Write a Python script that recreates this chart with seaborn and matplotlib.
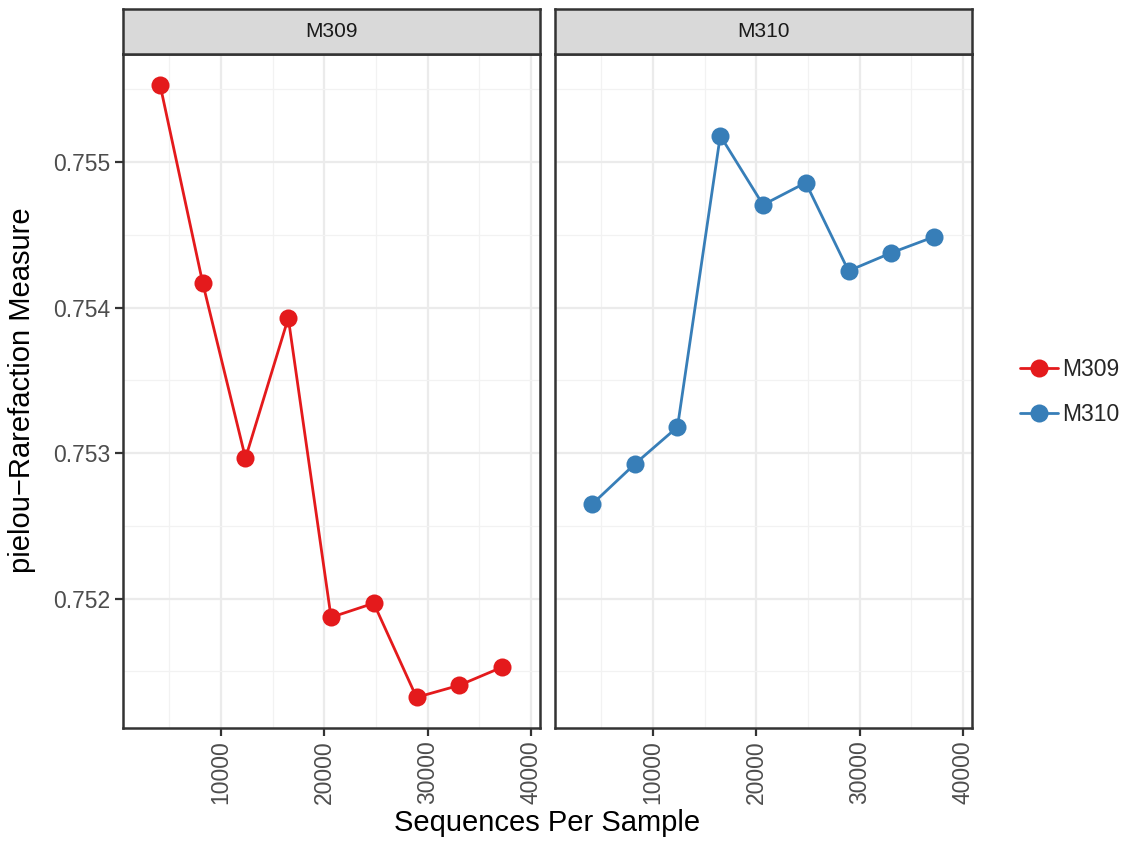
import pandas as pd
import seaborn as sns
import matplotlib.pyplot as plt
from matplotlib.lines import Line2D
from matplotlib.ticker import MultipleLocator

samples = ["M309", "M310"]
colors = {"M309": "#E41A1C", "M310": "#377EB8"}

depth = [4100, 8230, 12370, 16510, 20650, 24780, 28920, 33060, 37190]
m309 = [0.755532, 0.754169, 0.752965, 0.753928, 0.751871, 0.751968, 0.751321, 0.751404, 0.751528]
m310 = [0.752648, 0.752924, 0.753179, 0.755181, 0.754706, 0.754858, 0.754252, 0.754376, 0.754486]

df = pd.DataFrame({
    "depth": depth * 2,
    "value": m309 + m310,
    "sample": ["M309"] * len(depth) + ["M310"] * len(depth),
})

sns.set_theme(style="white")
plt.rcParams["font.family"] = ["Liberation Sans", "DejaVu Sans"]

fig = plt.figure(figsize=(11.3, 8.49), dpi=100)

W, H = 1130, 849
panels = [(123, 540), (555, 972)]
top, bottom = 54, 728
strip_top = 9

# ggplot-like 5% expansion around the data
lo, hi = min(m309 + m310), max(m309 + m310)
pad = (hi - lo) * 0.05

for i, (s, (x0, x1)) in enumerate(zip(samples, panels)):
    ax = fig.add_axes([x0 / W, (H - bottom) / H, (x1 - x0) / W, (bottom - top) / H])
    sub = df[df["sample"] == s]
    sns.lineplot(data=sub, x="depth", y="value", color=colors[s], marker="o",
                 markersize=13, markeredgewidth=0, linewidth=2, ax=ax, zorder=3)
    ax.set_xlim(516, 40870)
    ax.set_ylim(lo - pad, hi + pad)
    ax.xaxis.set_major_locator(MultipleLocator(10000))
    ax.xaxis.set_minor_locator(MultipleLocator(5000))
    ax.yaxis.set_major_locator(MultipleLocator(0.001))
    ax.yaxis.set_minor_locator(MultipleLocator(0.0005))
    ax.grid(which="major", color="#EBEBEB", linewidth=1.6)
    ax.grid(which="minor", color="#F2F2F2", linewidth=0.9)
    ax.set_axisbelow(True)
    ax.set_xticks([10000, 20000, 30000, 40000])
    ax.set_xticklabels(["10000", "20000", "30000", "40000"], rotation=90)
    ax.tick_params(axis="both", which="major", length=6, width=1.6, color="#333333",
                   labelcolor="#4D4D4D", labelsize=16.5, pad=3,
                   bottom=True, left=(i == 0))
    ax.tick_params(which="minor", length=0)
    if i == 0:
        ax.set_yticks([0.752, 0.753, 0.754, 0.755])
        ax.set_yticklabels(["0.752", "0.753", "0.754", "0.755"])
    else:
        ax.set_yticklabels([])
    ax.set_xlabel("")
    ax.set_ylabel("")
    for sp in ax.spines.values():
        sp.set_color("#333333")
        sp.set_linewidth(1.8)

    sax = fig.add_axes([x0 / W, (H - top) / H, (x1 - x0) / W, (top - strip_top) / H])
    sax.set_facecolor("#D9D9D9")
    sax.set_xticks([])
    sax.set_yticks([])
    for sp in sax.spines.values():
        sp.set_color("#333333")
        sp.set_linewidth(1.8)
    sax.text(0.5, 0.5, s, ha="center", va="center", fontsize=15, color="#1A1A1A",
             transform=sax.transAxes)

fig.text((123 + 972) / 2 / W, 12 / H, "Sequences Per Sample", ha="center", va="bottom",
         fontsize=21, color="black")
fig.text(22 / W, (H - 390) / H, "pielou\u2212Rarefaction Measure", rotation=90,
         ha="center", va="center", fontsize=21, color="black")

handles = [Line2D([0], [0], color=colors[s], marker="o", markersize=13,
                  markeredgewidth=0, linewidth=2) for s in samples]
fig.legend(handles, samples, loc="center left", bbox_to_anchor=(1020 / W, (H - 392) / H),
           frameon=False, fontsize=16.5, handlelength=1.65, handletextpad=0.2,
           labelspacing=1.0, borderpad=0, borderaxespad=0)

fig.savefig("out.png", dpi=100)
